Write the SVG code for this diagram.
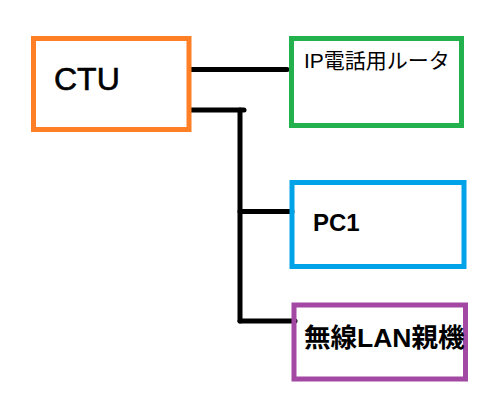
<svg xmlns="http://www.w3.org/2000/svg" width="489" height="413" viewBox="0 0 489 413">
<style>
.box{fill:none;stroke-width:5}
.t{font-family:"Liberation Sans","Noto Sans CJK JP",sans-serif;fill:#000}
.c{stroke:#000;stroke-width:5;stroke-linecap:round;fill:none}
</style>
<rect width="489" height="413" fill="#fff"/>
<g id="connectors">
<line class="c" x1="191" y1="69.5" x2="287" y2="69.5"/>
<line class="c" x1="191" y1="110" x2="244" y2="110"/>
<line class="c" x1="240" y1="110" x2="240" y2="321"/>
<line class="c" x1="240" y1="211.5" x2="292" y2="211.5"/>
<line class="c" x1="240" y1="321" x2="295" y2="321"/>
</g>
<g id="ctu">
<rect class="box" x="33.5" y="38.5" width="155.5" height="91" stroke="#ff7f27"/>
<text class="t" x="54" y="90" font-size="32" stroke="#000" stroke-width="0.6">CTU</text>
</g>
<g id="router">
<rect class="box" x="291.5" y="38.5" width="170" height="87" stroke="#22b14c"/>
<text class="t" x="304" y="67.5" font-size="21">IP電話用ルータ</text>
</g>
<g id="pc1">
<rect class="box" x="292" y="182.5" width="172" height="84" stroke="#00a2e8"/>
<text class="t" x="313" y="231" font-size="24" font-weight="bold">PC1</text>
</g>
<g id="wlan">
<rect class="box" x="294" y="305" width="171.5" height="74" stroke="#a349a4"/>
<text class="t" x="304" y="347" font-size="26.5" font-weight="bold">無線LAN親機</text>
</g>
</svg>
